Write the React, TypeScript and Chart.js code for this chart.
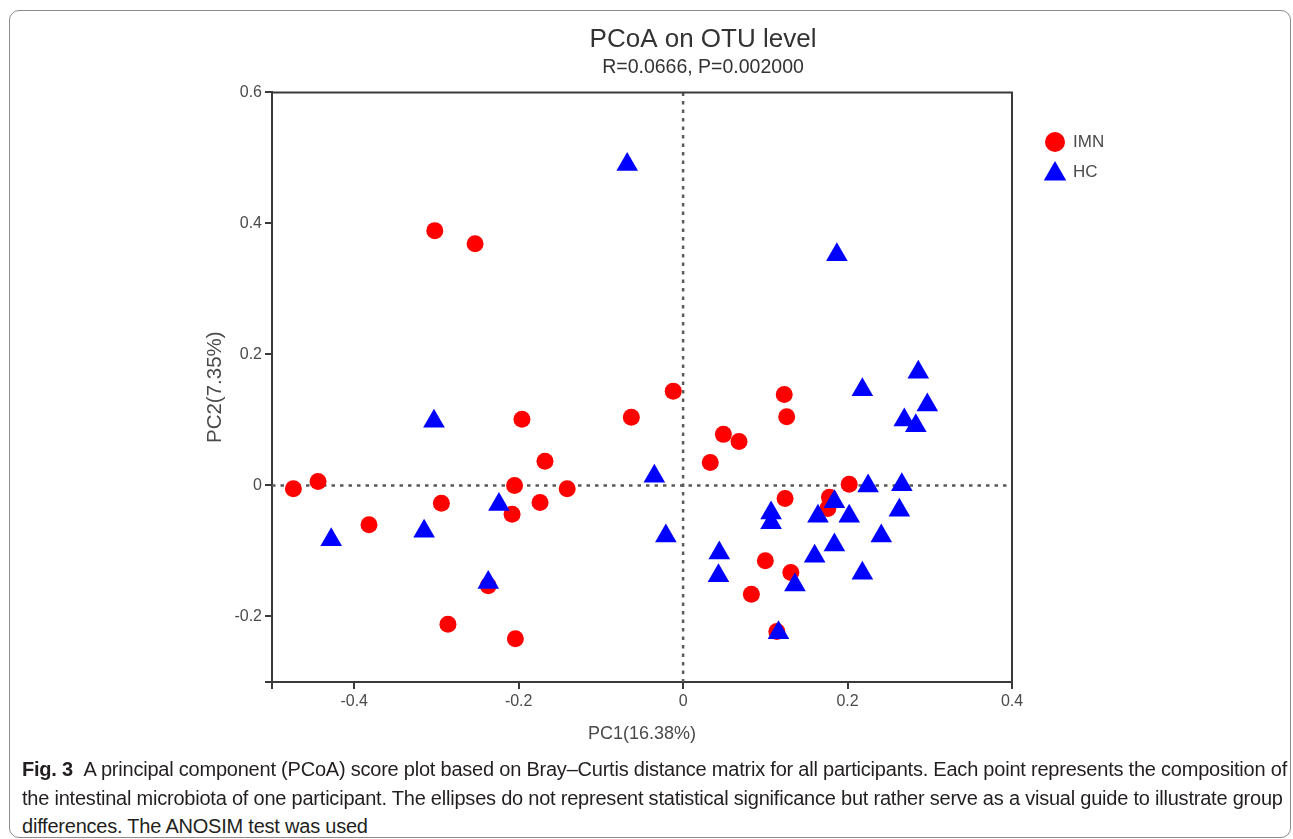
import React, { useEffect, useRef } from 'react';
import { Chart, registerables } from 'chart.js';

Chart.register(...registerables);

// ---------- data ----------
const seriesNames = ['IMN', 'HC'];

const imnX = [-0.474, -0.444, -0.382, -0.302, -0.253, -0.294, -0.286, -0.237, -0.205, -0.208, -0.204, -0.196, -0.168, -0.174, -0.141, -0.063, -0.012, 0.033, 0.049, 0.068, 0.123, 0.126, 0.100, 0.083, 0.131, 0.124, 0.114, 0.202, 0.176, 0.178];
const imnY = [-0.005, 0.006, -0.060, 0.389, 0.369, -0.027, -0.212, -0.153, 0.000, -0.044, -0.234, 0.101, 0.037, -0.026, -0.005, 0.104, 0.144, 0.035, 0.078, 0.067, 0.139, 0.105, -0.115, -0.166, -0.133, -0.020, -0.223, 0.002, -0.035, -0.018];

const hcX = [-0.068, 0.187, -0.303, -0.428, -0.315, -0.224, -0.237, -0.035, -0.021, 0.044, 0.043, 0.107, 0.107, 0.136, 0.116, 0.160, 0.184, 0.164, 0.184, 0.202, 0.218, 0.241, 0.225, 0.266, 0.263, 0.218, 0.286, 0.297, 0.269, 0.283];
const hcY = [0.490, 0.352, 0.098, -0.083, -0.070, -0.029, -0.148, 0.014, -0.077, -0.103, -0.138, -0.042, -0.057, -0.152, -0.225, -0.108, -0.091, -0.047, -0.025, -0.047, -0.134, -0.077, -0.001, 0.001, -0.038, 0.146, 0.173, 0.123, 0.100, 0.091];

const xTickValues = [-0.5, -0.4, -0.2, 0, 0.2, 0.4];
const yTickValues = [-0.3, -0.2, 0, 0.2, 0.4, 0.6];
const labeledTickValues = [-0.4, -0.2, 0, 0.2, 0.4, 0.6];

const titleText = 'PCoA on OTU level';
const subtitleText = 'R=0.0666, P=0.002000';
const xTitleText = 'PC1(16.38%)';
const yTitleText = 'PC2(7.35%)';

const captionBold = 'Fig. 3';
const captionLines = [
  '\u00a0\u00a0A principal component (PCoA) score plot based on Bray\u2013Curtis distance matrix for all participants. Each point represents the composition of',
  'the intestinal microbiota of one participant. The ellipses do not represent statistical significance but rather serve as a visual guide to illustrate group',
  'differences. The ANOSIM test was used',
];

// ---------- styles ----------
const FONT = '"Liberation Sans", Arial, sans-serif';
const RED = '#ff0000';
const BLUE = '#0000ff';
const AXIS = '#3a3a3a';
const TEXT = '#4a4a4a';

const fmtTick = (v: number) => {
  const hit = labeledTickValues.some((t) => Math.abs(t - v) < 1e-9);
  if (!hit) return '';
  if (Math.abs(v) < 1e-9) return '0';
  return String(Math.round(v * 10) / 10);
};

const boxPlugin = {
  id: 'boxAndZero',
  beforeDatasetsDraw(chart: any) {
    const { ctx, chartArea, scales } = chart;
    const x0 = scales.x.getPixelForValue(0);
    const y0 = scales.y.getPixelForValue(0);
    ctx.save();
    ctx.strokeStyle = '#5a5a5a';
    ctx.lineWidth = 2.5;
    ctx.setLineDash([3.5, 5]);
    ctx.beginPath();
    ctx.moveTo(x0, chartArea.top);
    ctx.lineTo(x0, chartArea.bottom);
    ctx.moveTo(chartArea.left, y0);
    ctx.lineTo(chartArea.right, y0);
    ctx.stroke();
    ctx.setLineDash([]);
    ctx.strokeStyle = AXIS;
    ctx.lineWidth = 2;
    ctx.beginPath();
    ctx.moveTo(chartArea.left, chartArea.top);
    ctx.lineTo(chartArea.right, chartArea.top);
    ctx.lineTo(chartArea.right, chartArea.bottom);
    ctx.stroke();
    ctx.restore();
  },
  afterDraw(chart: any) {
    const { ctx, chartArea } = chart;
    const lx = chartArea.right + 43;
    const ly1 = 142;
    const ly2 = 172;
    ctx.save();
    ctx.fillStyle = RED;
    ctx.beginPath();
    ctx.arc(lx, ly1, 10, 0, Math.PI * 2);
    ctx.fill();
    const r = 13;
    ctx.fillStyle = BLUE;
    ctx.beginPath();
    ctx.moveTo(lx, ly2 + 2 - r);
    ctx.lineTo(lx + 0.866 * r, ly2 + 2 + 0.5 * r);
    ctx.lineTo(lx - 0.866 * r, ly2 + 2 + 0.5 * r);
    ctx.closePath();
    ctx.fill();
    ctx.fillStyle = TEXT;
    ctx.font = `17px ${FONT}`;
    ctx.textBaseline = 'middle';
    ctx.textAlign = 'left';
    ctx.fillText(seriesNames[0], lx + 18, ly1);
    ctx.fillText(seriesNames[1], lx + 18, ly2);
    ctx.restore();
  },
};

function PCoAChart() {
  const ref = useRef<HTMLCanvasElement | null>(null);
  useEffect(() => {
    if (!ref.current) return;
    const chart = new Chart(ref.current, {
      type: 'scatter',
      data: {
        datasets: [
          {
            label: seriesNames[0],
            data: imnX.map((x, i) => ({ x, y: imnY[i] })),
            pointStyle: 'circle',
            pointRadius: 8.5,
            pointBackgroundColor: RED,
            pointBorderColor: RED,
            pointBorderWidth: 0,
            order: 1,
          },
          {
            label: seriesNames[1],
            data: hcX.map((x, i) => ({ x, y: hcY[i] })),
            pointStyle: 'triangle',
            pointRadius: 12.5,
            pointBackgroundColor: BLUE,
            pointBorderColor: BLUE,
            pointBorderWidth: 0,
            order: 0,
          },
        ],
      },
      options: {
        animation: false,
        responsive: false,
        events: [],
        layout: { padding: { left: 113, right: 0, top: 0, bottom: 0 } },
        plugins: {
          legend: { display: false },
          tooltip: { enabled: false },
          title: {
            display: true,
            text: titleText,
            color: '#333333',
            font: { family: FONT, size: 26, weight: 'normal' },
            padding: { top: 24, bottom: 0 },
          },
          subtitle: {
            display: true,
            text: subtitleText,
            color: '#333333',
            font: { family: FONT, size: 19.5, weight: 'normal' },
            padding: { top: 1, bottom: 12.8 },
          },
        },
        scales: {
          x: {
            type: 'linear',
            min: -0.5,
            max: 0.4,
            afterBuildTicks: (s: any) => {
              s.ticks = xTickValues.map((v) => ({ value: v }));
            },
            afterFit: (s: any) => {
              s.height = 78;
            },
            ticks: {
              autoSkip: false,
              maxRotation: 0,
              padding: 3,
              color: TEXT,
              font: { family: FONT, size: 16 },
              callback: (v: any) => fmtTick(Number(v)),
            },
            grid: { drawOnChartArea: false, drawTicks: true, tickLength: 7, color: AXIS, lineWidth: 2 },
            border: { display: true, color: AXIS, width: 2 },
            title: {
              display: true,
              text: xTitleText,
              color: TEXT,
              font: { family: FONT, size: 18 },
              padding: { top: 0, bottom: 14.8 },
            },
          },
          y: {
            type: 'linear',
            min: -0.3,
            max: 0.6,
            afterBuildTicks: (s: any) => {
              s.ticks = yTickValues.map((v) => ({ value: v }));
            },
            afterFit: (s: any) => {
              s.width = 159;
            },
            ticks: {
              autoSkip: false,
              padding: 3,
              color: TEXT,
              font: { family: FONT, size: 16 },
              callback: (v: any) => fmtTick(Number(v)),
            },
            grid: { drawOnChartArea: false, drawTicks: true, tickLength: 7, color: AXIS, lineWidth: 2 },
            border: { display: true, color: AXIS, width: 2 },
            title: {
              display: true,
              text: yTitleText,
              color: TEXT,
              font: { family: FONT, size: 20.5 },
              padding: { top: 89.7, bottom: 0 },
            },
          },
          y2: {
            type: 'linear',
            position: 'right',
            display: true,
            grid: { display: false },
            border: { display: false },
            ticks: { display: false },
            afterFit: (s: any) => {
              s.width = 281;
            },
          },
        },
      },
      plugins: [boxPlugin],
    } as any);
    return () => chart.destroy();
  }, []);
  return (
    <canvas
      ref={ref}
      width={1293}
      height={760}
      style={{ position: 'absolute', left: 0, top: 0, width: 1293, height: 760 }}
    />
  );
}

export default function App() {
  const capStyle: React.CSSProperties = {
    position: 'absolute',
    left: 22,
    whiteSpace: 'nowrap',
    fontFamily: FONT,
    fontSize: 20,
    lineHeight: '28px',
    height: 28,
    color: '#231f20',
    letterSpacing: '-0.22px',
  };
  return (
    <div style={{ position: 'fixed', left: 0, top: 0, width: 1293, height: 839, background: '#fff', overflow: 'hidden' }}>
      <div
        style={{
          position: 'absolute',
          left: 9,
          top: 10,
          width: 1282,
          height: 828,
          boxSizing: 'border-box',
          border: '1.5px solid #8c8c8c',
          borderRadius: 10,
        }}
      />
      <PCoAChart />
      <div style={{ ...capStyle, top: 755 }}>
        <b>{captionBold}</b>
        {captionLines[0]}
      </div>
      <div style={{ ...capStyle, top: 784 }}>{captionLines[1]}</div>
      <div style={{ ...capStyle, top: 812 }}>{captionLines[2]}</div>
    </div>
  );
}
